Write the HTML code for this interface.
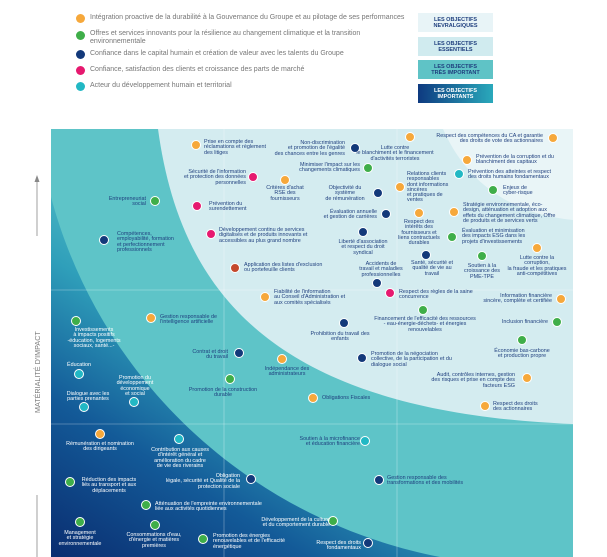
<!DOCTYPE html>
<html><head><meta charset="utf-8"><style>
body{margin:0;width:607px;height:557px;overflow:hidden;background:#fff;font-family:"Liberation Sans",sans-serif;position:relative}
.l{position:absolute;font-size:5.4px;line-height:5.3px;color:#1f3f7e;white-space:nowrap}
.c{text-align:center;width:120px}
.r{text-align:right}
.d{position:absolute;width:8px;height:8px;border-radius:50%;border:1px solid #fff;margin:-5px 0 0 -5px}
.o{background:#f6a83b}.g{background:#3fae49}.n{background:#13397a}.p{background:#e6196f}.t{background:#22b8c4}.b{background:#c4482c}
.lg{position:absolute;left:90px;font-size:7px;color:#777;line-height:8px}
.ld{position:absolute;left:76px;width:9px;height:9px;border-radius:50%}
.bx{position:absolute;left:418px;width:75px;height:19px;font-size:5.5px;line-height:6px;text-align:center;color:#1f3f7e;font-weight:bold;display:flex;flex-direction:column;justify-content:center}
</style></head><body>
<div class="ld o" style="top:14px"></div><div class="lg" style="top:14px">Intégration proactive de la durabilité à la Gouvernance du Groupe et au pilotage de ses performances</div>
<div class="ld g" style="top:31px"></div><div class="lg" style="top:30px;width:320px">Offres et services innovants pour la résilience au changement climatique et la transition environnementale</div>
<div class="ld n" style="top:50px"></div><div class="lg" style="top:50px">Confiance dans le capital humain et création de valeur avec les talents du Groupe</div>
<div class="ld p" style="top:66px"></div><div class="lg" style="top:66px">Confiance, satisfaction des clients et croissance des parts de marché</div>
<div class="ld t" style="top:82px"></div><div class="lg" style="top:82px">Acteur du développement humain et territorial</div>
<div class="bx" style="top:13px;background:#e8f4f7">LES OBJECTIFS<br>NEVRALGIQUES</div>
<div class="bx" style="top:37px;background:#d0ebef">LES OBJECTIFS<br>ESSENTIELS</div>
<div class="bx" style="top:60px;background:#5fc3c6">LES OBJECTIFS<br>TRÈS IMPORTANT</div>
<div class="bx" style="top:84px;background:linear-gradient(90deg,#0e3a80,#2aa9bb);color:#fff">LES OBJECTIFS<br>IMPORTANTS</div>

<svg style="position:absolute;left:0;top:0" width="607" height="557">
<defs><linearGradient id="dg" gradientUnits="userSpaceOnUse" x1="51" y1="557" x2="230" y2="270"><stop offset="0" stop-color="#0a2d70"/><stop offset="0.4" stop-color="#135a98"/><stop offset="0.75" stop-color="#2f9fba"/><stop offset="1" stop-color="#52bcc5"/></linearGradient></defs>
<rect x="51" y="129" width="522" height="428" fill="#5ec4c8"/>
<path d="M51,197 C100,380 250,520 440,557 L51,557 Z" fill="url(#dg)"/>
<path d="M158,129 C180,290 270,412 573,424 L573,129 Z" fill="#d4ecf0"/>
<path d="M443,129 C470,190 520,215 573,220 L573,129 Z" fill="#e9f5f7"/>
<g stroke="#fff" stroke-opacity="0.35" stroke-width="0.8">
<line x1="224" y1="129" x2="224" y2="557"/><line x1="397" y1="129" x2="397" y2="557"/>
<line x1="51" y1="290" x2="573" y2="290"/><line x1="51" y1="424" x2="573" y2="424"/></g>
<line x1="37" y1="180" x2="37" y2="236" stroke="#888" stroke-width="0.8"/>
<path d="M34.5,182 L37,175 L39.5,182 Z" fill="#888"/>
<line x1="37" y1="495" x2="37" y2="557" stroke="#888" stroke-width="0.8"/>
<text x="0" y="0" transform="translate(40,413) rotate(-90)" font-size="7.2" fill="#777" font-family="Liberation Sans">MATÉRIALITÉ D'IMPACT</text>
</svg>

<div class="d o" style="left:196px;top:145px"></div>
<div class="d n" style="left:355px;top:148px"></div>
<div class="d o" style="left:410px;top:137px"></div>
<div class="d p" style="left:253px;top:177px"></div>
<div class="d o" style="left:285px;top:180px"></div>
<div class="d g" style="left:368px;top:168px"></div>
<div class="d n" style="left:378px;top:193px"></div>
<div class="d o" style="left:400px;top:187px"></div>
<div class="d p" style="left:197px;top:206px"></div>
<div class="d n" style="left:386px;top:214px"></div>
<div class="d o" style="left:419px;top:213px"></div>
<div class="d p" style="left:211px;top:234px"></div>
<div class="d n" style="left:363px;top:232px"></div>
<div class="d b" style="left:235px;top:268px"></div>
<div class="d n" style="left:377px;top:283px"></div>
<div class="d n" style="left:426px;top:255px"></div>
<div class="d p" style="left:390px;top:293px"></div>
<div class="d o" style="left:265px;top:297px"></div>
<div class="d o" style="left:553px;top:138px"></div>
<div class="d o" style="left:467px;top:160px"></div>
<div class="d t" style="left:459px;top:174px"></div>
<div class="d g" style="left:493px;top:190px"></div>
<div class="d o" style="left:454px;top:212px"></div>
<div class="d g" style="left:452px;top:237px"></div>
<div class="d o" style="left:537px;top:248px"></div>
<div class="d g" style="left:482px;top:256px"></div>
<div class="d o" style="left:561px;top:299px"></div>
<div class="d g" style="left:423px;top:310px"></div>
<div class="d g" style="left:557px;top:322px"></div>
<div class="d g" style="left:522px;top:340px"></div>
<div class="d o" style="left:527px;top:378px"></div>
<div class="d o" style="left:485px;top:406px"></div>
<div class="d n" style="left:362px;top:358px"></div>
<div class="d n" style="left:344px;top:323px"></div>
<div class="d g" style="left:155px;top:201px"></div>
<div class="d n" style="left:104px;top:240px"></div>
<div class="d o" style="left:151px;top:318px"></div>
<div class="d g" style="left:76px;top:321px"></div>
<div class="d t" style="left:79px;top:374px"></div>
<div class="d t" style="left:134px;top:402px"></div>
<div class="d t" style="left:84px;top:407px"></div>
<div class="d n" style="left:239px;top:353px"></div>
<div class="d g" style="left:230px;top:379px"></div>
<div class="d o" style="left:282px;top:359px"></div>
<div class="d o" style="left:313px;top:398px"></div>
<div class="d o" style="left:100px;top:434px"></div>
<div class="d t" style="left:179px;top:439px"></div>
<div class="d g" style="left:70px;top:482px"></div>
<div class="d n" style="left:251px;top:479px"></div>
<div class="d g" style="left:146px;top:505px"></div>
<div class="d g" style="left:80px;top:522px"></div>
<div class="d g" style="left:155px;top:525px"></div>
<div class="d g" style="left:203px;top:539px"></div>
<div class="d g" style="left:333px;top:521px"></div>
<div class="d n" style="left:368px;top:543px"></div>
<div class="d t" style="left:365px;top:441px"></div>
<div class="d n" style="left:379px;top:480px"></div>

<div class="l" style="left:204px;top:140px">Prise en compte des<br>réclamations et règlement<br>des litiges</div>
<div class="l r" style="right:262px;top:141px">Non-discrimination<br>et promotion de l'égalité<br>des chances entre les genres</div>
<div class="l c" style="left:335px;top:146px">Lutte contre<br>le blanchiment et le financement<br>d'activités terroristes</div>
<div class="l r" style="right:361px;top:170px">Sécurité de l'information<br>et protection des données<br>personnelles</div>
<div class="l c" style="left:225px;top:186px">Critères d'achat<br>RSE des<br>fournisseurs</div>
<div class="l r" style="right:247px;top:163px">Minimiser l'impact sur les<br>changements climatiques</div>
<div class="l c" style="left:285px;top:186px">Objectivité du<br>système<br>de rémunération</div>
<div class="l" style="left:407px;top:172px">Relations clients<br>responsables<br>dont informations<br>sincères<br>et pratiques de<br>ventes</div>
<div class="l" style="left:209px;top:202px">Prévention du<br>surendettement</div>
<div class="l r" style="right:230px;top:210px">Évaluation annuelle<br>et gestion de carrières</div>
<div class="l c" style="left:359px;top:220px">Respect des<br>intérêts des<br>fournisseurs et<br>liens contractuels<br>durables</div>
<div class="l" style="left:219px;top:228px">Développement continu de services<br>digitalisés et de produits innovants et<br>accessibles au plus grand nombre</div>
<div class="l c" style="left:303px;top:240px">Liberté d'association<br>et respect du droit<br>syndical</div>
<div class="l" style="left:244px;top:263px">Application des listes d'exclusion<br>ou portefeuille clients</div>
<div class="l c" style="left:321px;top:262px">Accidents de<br>travail et maladies<br>professionnelles</div>
<div class="l c" style="left:372px;top:261px">Santé, sécurité et<br>qualité de vie au<br>travail</div>
<div class="l" style="left:399px;top:290px">Respect des règles de la saine<br>concurrence</div>
<div class="l" style="left:274px;top:290px">Fiabilité de l'information<br>au Conseil d'Administration et<br>aux comités spécialisés</div>
<div class="l r" style="right:64px;top:134px">Respect des compétences du CA et garantie<br>des droits de vote des actionnaires</div>
<div class="l" style="left:476px;top:155px">Prévention de la corruption et du<br>blanchiment des capitaux</div>
<div class="l" style="left:468px;top:170px">Prévention des atteintes et respect<br>des droits humains fondamentaux</div>
<div class="l" style="left:503px;top:186px">Enjeux de<br>cyber-risque</div>
<div class="l" style="left:463px;top:203px">Stratégie environnementale, éco-<br>design, atténuation et adoption aux<br>effets du changement climatique, Offre<br>de produits et de services verts</div>
<div class="l" style="left:462px;top:229px">Évaluation et minimisation<br>des impacts ESG dans les<br>projets d'investissements</div>
<div class="l c" style="left:477px;top:256px">Lutte contre la<br>corruption,<br>la fraude et les pratiques<br>anti-compétitives</div>
<div class="l c" style="left:422px;top:264px">Soutien à la<br>croissance des<br>PME-TPE</div>
<div class="l r" style="right:55px;top:294px">Information financière<br>sincère, complète et certifiée</div>
<div class="l c" style="left:365px;top:317px">Financement de l'efficacité des ressources<br>- eau-énergie-déchets- et énergies<br>renouvelables</div>
<div class="l r" style="right:59px;top:320px">Inclusion financière</div>
<div class="l c" style="left:462px;top:349px">Économie bas-carbone<br>et production propre</div>
<div class="l r" style="right:92px;top:373px">Audit, contrôles internes, gestion<br>des risques et prise en compte des<br>facteurs ESG</div>
<div class="l" style="left:493px;top:402px">Respect des droits<br>des actionnaires</div>
<div class="l" style="left:371px;top:352px">Promotion de la négociation<br>collective, de la participation et du<br>dialogue social</div>
<div class="l c" style="left:280px;top:332px">Prohibition du travail des<br>enfants</div>
<div class="l r" style="right:461px;top:197px">Entrepreneuriat<br>social</div>
<div class="l" style="left:117px;top:232px">Compétences,<br>employabilité, formation<br>et perfectionnement<br>professionnels</div>
<div class="l" style="left:160px;top:315px">Gestion responsable de<br>l'intelligence artificielle</div>
<div class="l c" style="left:34px;top:328px;color:#fff">Investissements<br>à impacts positifs<br>-éducation, logements<br>sociaux, santé...-</div>
<div class="l c" style="left:19px;top:363px;color:#fff">Éducation</div>
<div class="l c" style="left:75px;top:376px;color:#fff">Promotion du<br>développement<br>économique<br>et social</div>
<div class="l c" style="left:28px;top:392px;color:#fff">Dialogue avec les<br>parties prenantes</div>
<div class="l r" style="right:379px;top:350px">Contrat et droit<br>du travail</div>
<div class="l c" style="left:163px;top:388px">Promotion de la construction<br>durable</div>
<div class="l c" style="left:227px;top:367px">Indépendance des<br>administrateurs</div>
<div class="l" style="left:322px;top:396px">Obligations Fiscales</div>
<div class="l c" style="left:40px;top:442px;color:#fff">Rémunération et nomination<br>des dirigeants</div>
<div class="l c" style="left:120px;top:448px;color:#fff">Contribution aux causes<br>d'intérêt général et<br>amélioration du cadre<br>de vie des riverains</div>
<div class="l c" style="left:49px;top:478px;color:#fff">Réduction des impacts<br>liés au transport et aux<br>déplacements</div>
<div class="l r" style="right:367px;top:474px;color:#fff">Obligation<br>légale, sécurité et Qualité de la<br>protection sociale</div>
<div class="l" style="left:155px;top:502px;color:#fff">Atténuation de l'empreinte environnementale<br>liée aux activités quotidiennes</div>
<div class="l c" style="left:20px;top:531px;color:#fff">Management<br>et stratégie<br>environnementale</div>
<div class="l c" style="left:94px;top:533px;color:#fff">Consommations d'eau,<br>d'énergie et matières<br>premières</div>
<div class="l" style="left:213px;top:534px;color:#fff">Promotion des énergies<br>renouvelables et de l'efficacité<br>énergétique</div>
<div class="l r" style="right:277px;top:518px;color:#fff">Développement de la culture<br>et du comportement durable</div>
<div class="l r" style="right:246px;top:541px;color:#fff">Respect des droits<br>fondamentaux</div>
<div class="l r" style="right:247px;top:437px">Soutien à la microfinance<br>et éducation financière</div>
<div class="l" style="left:387px;top:476px">Gestion responsable des<br>transformations et des mobilités</div>
</body></html>
